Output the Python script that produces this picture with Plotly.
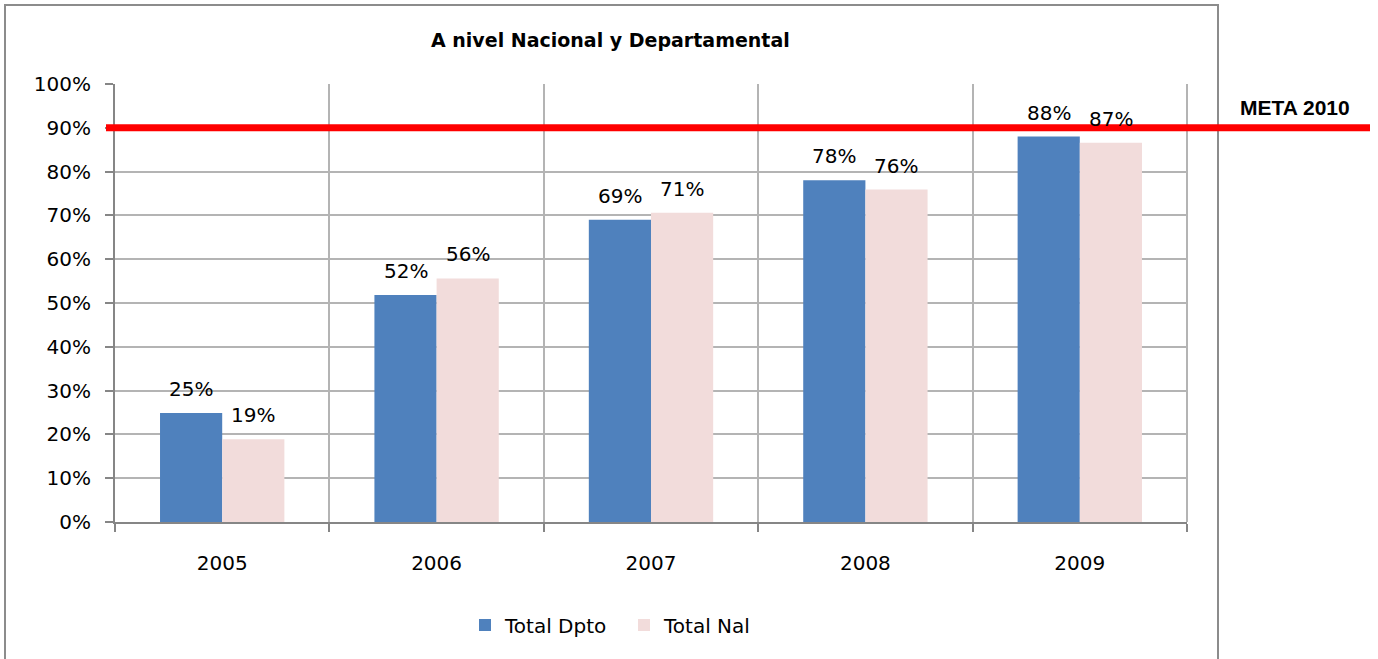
import plotly.graph_objects as go

years = ["2005", "2006", "2007", "2008", "2009"]
total_dpto = [0.249, 0.518, 0.690, 0.780, 0.880]
total_nal = [0.189, 0.556, 0.706, 0.759, 0.866]
meta_value = 0.90
meta_label = "META 2010"
title_text = "A nivel Nacional y Departamental"
y_ticks = [0, 0.1, 0.2, 0.3, 0.4, 0.5, 0.6, 0.7, 0.8, 0.9, 1.0]

W, H = 1378, 659
L, R, T, B = 115, 1187, 84, 522
BARGAP = 0.42

def px_x(p):
    return (p - L) / (R - L)

def px_y(p):
    return (B - p) / (B - T)

FONT = "DejaVu Sans"
FS = 20
GRID = "#B4B4B4"
AXIS = "#868686"

fig = go.Figure()
fig.add_trace(go.Bar(
    x=years, y=total_dpto, name="Total Dpto",
    marker=dict(color="#4F81BD", line=dict(width=0)),
))
fig.add_trace(go.Bar(
    x=years, y=total_nal, name="Total Nal",
    marker=dict(color="#F2DCDB", line=dict(width=0)),
))

# data labels (above the bars); x given as category index
cat_w = (R - L) / len(years)
off = (1 - BARGAP) * cat_w / 4
for series, shift in ((total_dpto, -off), (total_nal, off)):
    for i, v in enumerate(series):
        fig.add_annotation(x=i, y=v, xref="x", yref="y", text=f"{v:.0%}",
                           showarrow=False, xanchor="center", yanchor="bottom",
                           xshift=shift, yshift=10,
                           font=dict(family=FONT, size=FS, color="#000000"))

fig.update_layout(
    width=W, height=H,
    margin=dict(l=L, r=W - R, t=T, b=H - B, pad=0, autoexpand=False),
    paper_bgcolor="white", plot_bgcolor="white",
    barmode="group", bargap=BARGAP, bargroupgap=0,
    font=dict(family=FONT, size=FS, color="#000000"),
    showlegend=True,
    legend=dict(orientation="h", x=px_x(465), y=px_y(625), xanchor="left", yanchor="middle",
                font=dict(family=FONT, size=FS), traceorder="normal", itemwidth=30,
                entrywidth=114, entrywidthmode="pixels"),
    xaxis=dict(
        type="category", categoryorder="array", categoryarray=years,
        tickson="boundaries", showgrid=True, gridcolor=GRID, gridwidth=2,
        showline=True, linecolor=AXIS, linewidth=2, mirror=False,
        ticks="outside", ticklen=8, tickcolor=AXIS, tickwidth=2,
        tickfont=dict(family=FONT, size=FS), ticklabelstandoff=22, tickangle=0,
    ),
    yaxis=dict(
        range=[0, 1.0], tickvals=y_ticks, tickformat=".0%",
        showgrid=True, gridcolor=GRID, gridwidth=2,
        showline=True, linecolor=AXIS, linewidth=2,
        ticks="outside", ticklen=8, tickcolor=AXIS, tickwidth=2,
        tickfont=dict(family=FONT, size=FS), ticklabelstandoff=10, zeroline=False,
    ),
)

# right border of plot area (gridline at last boundary)
fig.add_shape(type="line", xref="paper", yref="paper", x0=1, x1=1, y0=0, y1=1,
              line=dict(color=GRID, width=2), layer="below")

# chart frame
fig.add_shape(type="rect", xref="paper", yref="paper",
              x0=px_x(5), x1=px_x(1218), y0=px_y(5), y1=px_y(700),
              line=dict(color="#8C8C8C", width=2), fillcolor="rgba(0,0,0,0)", layer="below")

# goal line
fig.add_shape(type="line", xref="paper", yref="y",
              x0=px_x(106), x1=px_x(1370), y0=meta_value, y1=meta_value,
              line=dict(color="#FF0000", width=7), layer="above")

fig.add_annotation(x=px_x(1295), y=px_y(107), xref="paper", yref="paper",
                   xanchor="center", yanchor="middle",
                   text="<b>" + meta_label + "</b>", showarrow=False,
                   font=dict(family="Liberation Sans", size=21, color="#000000"))

fig.add_annotation(x=px_x(610), y=px_y(40), xref="paper", yref="paper",
                   xanchor="center", yanchor="middle",
                   text="<b>" + title_text + "</b>", showarrow=False,
                   font=dict(family=FONT, size=19, color="#000000"))

fig.write_html("out.html", config={"displayModeBar": False},
               post_script="document.body.style.margin='0';")
